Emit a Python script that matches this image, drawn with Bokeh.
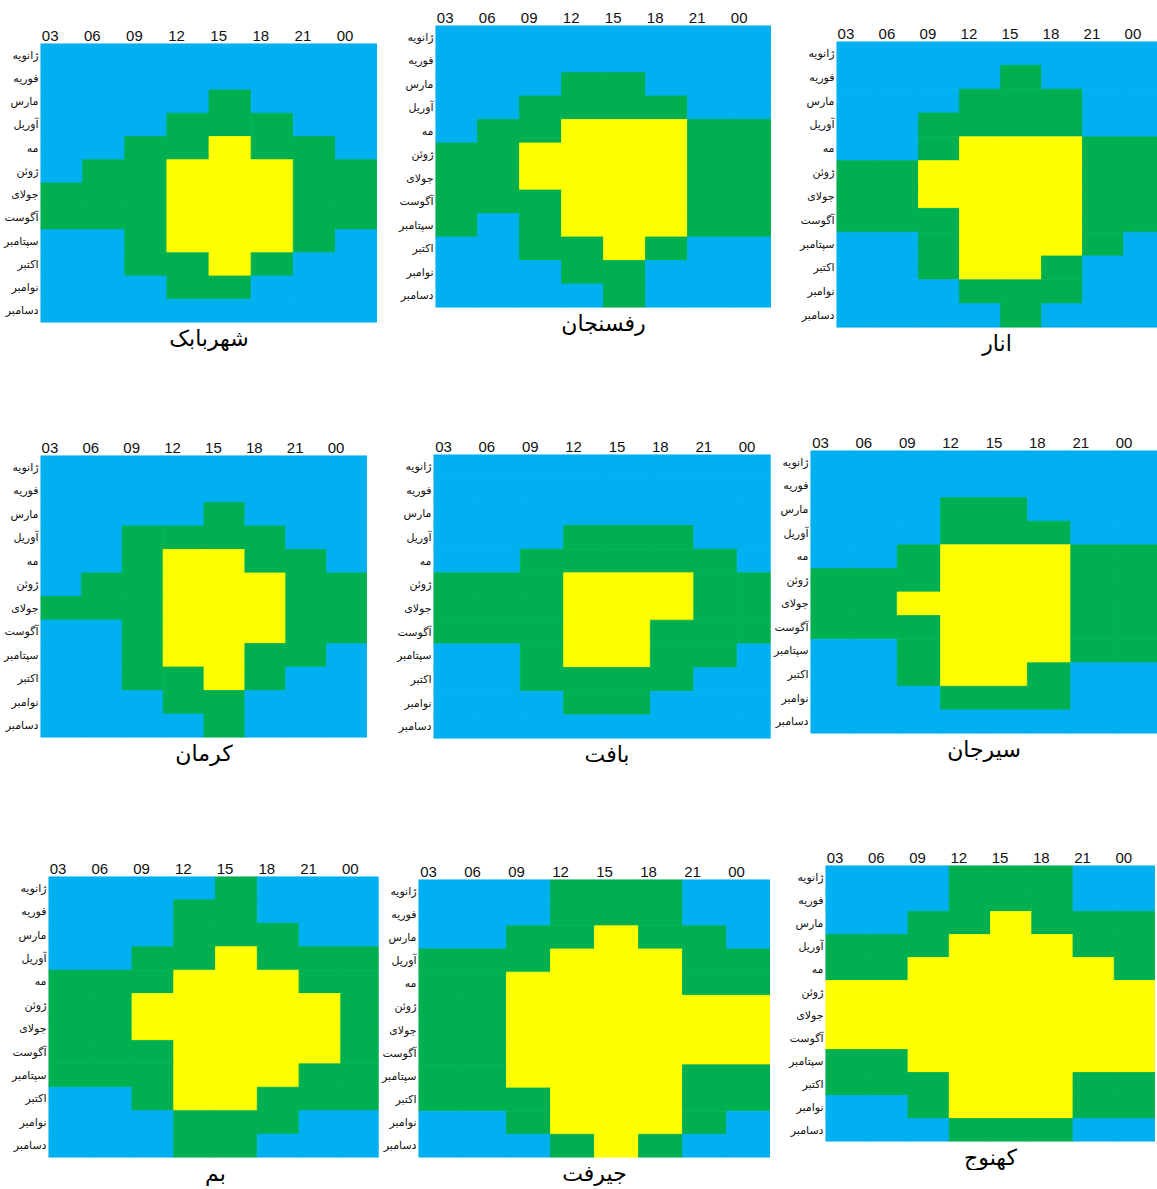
from bokeh.plotting import figure
from bokeh.layouts import column, row
from bokeh.models import Range1d, FixedTicker, ColumnDataSource
from bokeh.embed import file_html
from bokeh.resources import INLINE

# ---------------- data ----------------
months = ["ژانویه", "فوریه", "مارس", "آوریل", "مه", "ژوئن",
          "جولای", "آگوست", "سپتامبر", "اکتبر", "نوامبر", "دسامبر"]
hours = ["03", "06", "09", "12", "15", "18", "21", "00"]
level_colors = ["#00B0F0", "#00B050", "#FFFF00"]   # 0 = blue, 1 = green, 2 = yellow

# each string = one month (Jan..Dec), each digit = one hour slot (03..00)
shahrbabak = ["00000000", "00000000", "00001000", "00011100", "00112110", "01122211",
              "11122211", "11122211", "00122210", "00112100", "00011000", "00000000"]
rafsanjan = ["00000000", "00000000", "00011000", "00111100", "01122211", "11222211",
             "11222211", "11122211", "10122211", "00112100", "00011000", "00001000"]
anar = ["00000000", "00001000", "00011100", "00111100", "00122211", "11222211",
        "11222211", "11122211", "00122210", "00122100", "00011100", "00001000"]
kerman = ["00000000", "00000000", "00001000", "00111100", "00122110", "01122211",
          "11122211", "00122211", "00122110", "00112100", "00011000", "00001000"]
baft = ["00000000", "00000000", "00000000", "00011100", "00111110", "11122211",
        "11122211", "11122111", "00122110", "00111100", "00011000", "00000000"]
sirjan = ["00000000", "00000000", "00011000", "00011100", "00122211", "11122211",
          "11222211", "11122211", "00122211", "00122100", "00011100", "00000000"]
bam = ["00001000", "00011000", "00011100", "00112111", "11122211", "11222221",
       "11222221", "11122221", "11122211", "00122111", "00011100", "00011000"]
jiroft = ["00011100", "00011100", "00112110", "11122211", "11222211", "11222222",
          "11222222", "11222222", "11222211", "11122211", "00122210", "00012100"]
kahnuj = ["00011100", "00011100", "00112111", "11122211", "11222221", "22222222",
          "22222222", "22222222", "11222222", "11122211", "00122211", "00011100"]

cities = ["شهربابک", "رفسنجان", "انار", "کرمان", "بافت", "سیرجان", "بم", "جیرفت", "کهنوج"]
grids = [shahrbabak, rafsanjan, anar, kerman, baft, sirjan, bam, jiroft, kahnuj]

# ---------------- layout (pixels, page coordinates) ----------------
# frame: (x0, y0, frame_width, frame_height, visible columns)
frames = [
    (40, 43, 337, 279, 8.0), (435, 25, 336, 282, 8.0), (836, 41, 321, 286, 7.83),
    (40, 455, 327, 282, 8.0), (433, 454, 347, 284, 8.0), (810, 450, 347, 283, 8.0),
    (48, 876, 334, 284, 8.0), (418, 879, 352, 281, 8.0), (825, 865, 330, 279, 8.0),
]
BL, BT = 40, 22
BB = [30, 30, 26]


def panel(name, grid, bl, fw, bt, fh, bb, xmax, margin):
    xs, ys, cs = [], [], []
    for i, r in enumerate(grid):
        for j, ch in enumerate(r):
            xs.append(j + 0.5)
            ys.append(i + 0.5)
            cs.append(level_colors[int(ch)])
    src = ColumnDataSource(dict(x=xs, y=ys, c=cs))
    p = figure(width=bl + fw, height=bt + fh + bb, x_range=Range1d(0, xmax), y_range=Range1d(12, 0),
               output_backend="svg", toolbar_location=None, tools="",
               x_axis_location="above", title=name, title_location="below",
               min_border_left=bl, min_border_right=0, min_border_top=bt,
               min_border_bottom=bb, margin=margin)
    p.rect(x="x", y="y", width=1, height=1, fill_color="c", line_color="c", line_width=0.8,
           source=src)
    p.xaxis.ticker = FixedTicker(ticks=[j + 0.23 for j in range(len(hours))])
    p.xaxis.major_label_overrides = {j + 0.23: h for j, h in enumerate(hours)}
    p.yaxis.ticker = FixedTicker(ticks=[i + 0.5 for i in range(len(months))])
    p.yaxis.major_label_overrides = {i + 0.5: m for i, m in enumerate(months)}
    for ax in (p.xaxis[0], p.yaxis[0]):
        ax.axis_line_color = None
        ax.major_tick_line_color = None
        ax.minor_tick_line_color = None
        ax.major_tick_out = 0
        ax.major_tick_in = 0
        ax.major_label_text_color = "#111111"
    p.xaxis.major_label_standoff = 3
    p.yaxis.major_label_standoff = 2
    p.xaxis.major_label_text_font = "Liberation Sans"
    p.xaxis.major_label_text_font_size = "15px"
    p.yaxis.major_label_text_font = "DejaVu Sans"
    p.yaxis.major_label_text_font_size = "11px"
    p.grid.visible = False
    p.outline_line_color = None
    p.title.align = "center"
    p.title.text_font = "DejaVu Sans"
    p.title.text_font_size = "22px"
    p.title.text_font_style = "normal"
    p.title.text_color = "#000000"
    p.title.standoff = 2
    return p


rows = []
row_start = 0
for r in range(3):
    x_end = 0
    row_end = row_start
    figs = []
    for k in range(3 * r, 3 * r + 3):
        x0, y0, fw, fh, xmax = frames[k]
        mt = y0 - BT - row_start
        ml = x0 - BL - x_end
        h = BT + fh + BB[r]
        figs.append(panel(cities[k], grids[k], BL, fw, BT, fh, BB[r], xmax, (mt, 0, 0, ml)))
        x_end = x0 + fw
        row_end = max(row_end, row_start + mt + h)
    rows.append(row(*figs))
    row_start = row_end

layout = column(*rows)

open("out.html", "w").write(file_html(layout, INLINE))
